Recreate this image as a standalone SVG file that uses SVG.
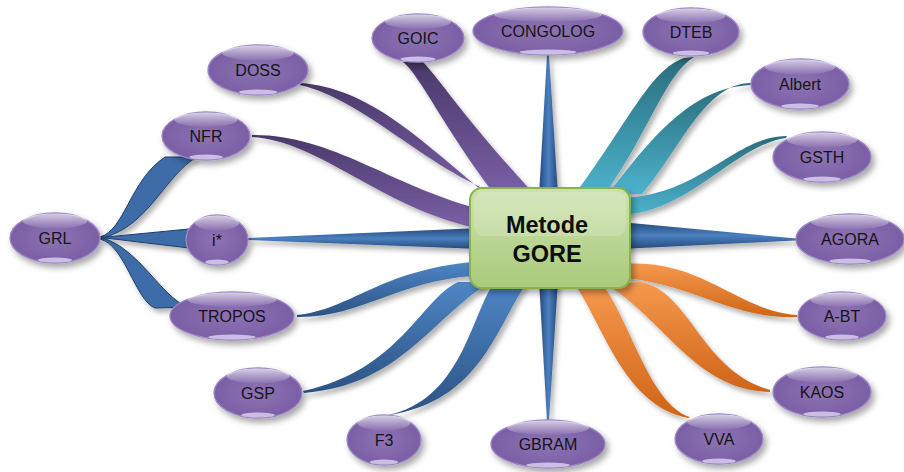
<svg xmlns="http://www.w3.org/2000/svg" width="904" height="472" viewBox="0 0 904 472">
<defs>
<filter id="sh" x="-30%" y="-30%" width="170%" height="180%"><feDropShadow dx="3" dy="4" stdDeviation="3" flood-color="#000" flood-opacity="0.35"/></filter>
<filter id="shr" x="-20%" y="-20%" width="150%" height="150%"><feDropShadow dx="3" dy="4" stdDeviation="2.5" flood-color="#000" flood-opacity="0.3"/></filter>
<radialGradient id="nodeG" cx="0.5" cy="0.5" r="0.6"><stop offset="0" stop-color="#8d73b3"/><stop offset="1" stop-color="#775ba3"/></radialGradient>
<linearGradient id="hlG" x1="0" y1="0" x2="0" y2="1"><stop offset="0" stop-color="#fff" stop-opacity="0.7"/><stop offset="1" stop-color="#fff" stop-opacity="0.05"/></linearGradient>
<linearGradient id="boxG" x1="0" y1="0" x2="0" y2="1"><stop offset="0" stop-color="#cde2af"/><stop offset="1" stop-color="#a9ca7a"/></linearGradient>
<linearGradient id="purG" x1="0" y1="0" x2="0" y2="1"><stop offset="0" stop-color="#4a396a"/><stop offset="1" stop-color="#7b60a6"/></linearGradient>
<linearGradient id="tealG" x1="0" y1="0" x2="0" y2="1"><stop offset="0" stop-color="#2a6c7c"/><stop offset="1" stop-color="#4cb3cc"/></linearGradient>
<linearGradient id="oraG" x1="0" y1="0" x2="0" y2="1"><stop offset="0" stop-color="#f6994e"/><stop offset="1" stop-color="#cf6416"/></linearGradient>
<linearGradient id="bluG" x1="0" y1="0" x2="0" y2="1"><stop offset="0" stop-color="#4e86c6"/><stop offset="1" stop-color="#2c5283"/></linearGradient>
<linearGradient id="spV" x1="0" y1="0" x2="1" y2="0"><stop offset="0" stop-color="#24497a"/><stop offset="0.5" stop-color="#4a7fbf"/><stop offset="1" stop-color="#24497a"/></linearGradient>
<linearGradient id="spH" x1="0" y1="0" x2="0" y2="1"><stop offset="0" stop-color="#24497a"/><stop offset="0.5" stop-color="#4a7fbf"/><stop offset="1" stop-color="#24497a"/></linearGradient>
</defs>
<style>
.b{fill:url(#nodeG);stroke:#9c87c6;stroke-width:1.3;filter:url(#sh)}
.t{fill:url(#hlG)}
.d{fill:#d9ceee;opacity:0.85}
.node text{font-family:"Liberation Sans",Arial,sans-serif;font-size:16px;fill:#141414;text-anchor:middle}
.ct{font-family:"Liberation Sans",Arial,sans-serif;font-size:23.5px;font-weight:bold;fill:#0d0d0d;text-anchor:middle}
.pur{fill:url(#purG)}
.teal{fill:url(#tealG)}
.ora{fill:url(#oraG)}
.blu{fill:url(#bluG)}
.spv{fill:url(#spV)}
.sph{fill:url(#spH)}
.grl{fill:#3c6ca8;stroke:#1f3f69;stroke-width:1}
</style>
<rect width="904" height="472" fill="#fff"/>
<g id="connectors" filter="url(#shr)">
<path class="pur" d="M252,135 C330,134 390,185 476,208 L476,228 C380,207 320,141 252,137 Z"/>
<path class="pur" d="M300,83 C370,88 420,140 484,192 L502,196 C425,168 365,100 300,85 Z"/>
<path class="pur" d="M403,62 C420,75 445,130 496,196 L536,196 C470,125 440,80 423,62 Z"/>
<path class="spv" d="M547,55 L549,55 L558,196 L539,196 Z"/>
<path class="teal" d="M684,58 C650,70 630,120 575,194 L605,194 C650,130 665,75 694,57 Z"/>
<path class="teal" d="M752,83 C705,82 680,150 642,194 L608,194 C650,140 690,88 750,85 Z"/>
<path class="teal" d="M787,136 C735,136 700,196 622,198 L622,215 C690,212 735,145 786,138 Z"/>
<path class="sph" d="M620,222 L796,238.5 L796,240.5 L620,249 Z"/>
<path class="ora" d="M625,264 C700,258 740,312 797,315 L797,317 C735,320 695,285 625,278 Z"/>
<path class="ora" d="M640,282 C690,290 700,370 770,390 L770,392 C695,390 665,320 606,284 Z"/>
<path class="ora" d="M575,284 C605,330 625,405 688,418 L690,417 C650,405 630,320 602,284 Z"/>
<path class="spv" d="M539,280 L558,280 L549,421 L547,421 Z"/>
<path class="blu" d="M493,284 C470,320 460,400 388,415 L390,415 C480,400 495,330 526,284 Z"/>
<path class="blu" d="M458,282 C420,300 400,370 303,391 L304,393 C400,385 430,320 490,282 Z"/>
<path class="blu" d="M297,315 C350,310 380,270 474,262 L474,276 C400,280 360,318 297,317 Z"/>
<path class="sph" d="M480,228 L248,238 L248,240 L480,249 Z"/>
<path class="grl" d="M100,237 C125,230 130,180 165,157 L197,157 C165,175 150,225 103,238 Z"/>
<path class="grl" d="M101,237.5 L189,229 L189,248 Z"/>
<path class="grl" d="M100,239 C125,245 135,300 155,308 L187,307 C160,295 140,250 103,238 Z"/>
</g>
<g id="node-gore">
<rect x="470" y="188" width="160" height="100" rx="12" fill="url(#boxG)" stroke="#8ab24c" stroke-width="2" filter="url(#sh)"/>
<rect x="474" y="192" width="152" height="44" rx="9" fill="#fff" opacity="0.18"/>
<text class="ct" x="547" y="233">Metode</text>
<text class="ct" x="547" y="262">GORE</text>
</g>
<g id="node-grl" class="node" transform="translate(55,238)"><ellipse class="b" rx="45" ry="25"/><ellipse class="t" cy="-17" rx="32.4" ry="7.5"/><ellipse class="d" cy="22" rx="17" ry="2.5"/><text y="6">GRL</text></g>
<g id="node-nfr" class="node" transform="translate(206,136)"><ellipse class="b" rx="44" ry="24"/><ellipse class="t" cy="-16.3" rx="31.7" ry="7.2"/><ellipse class="d" cy="21" rx="16.7" ry="2.5"/><text y="6">NFR</text></g>
<g id="node-istar" class="node" transform="translate(217,240)"><ellipse class="b" rx="31" ry="25"/><ellipse class="t" cy="-17" rx="22.3" ry="7.5"/><ellipse class="d" cy="22" rx="11.8" ry="2.5"/><text y="6">i*</text></g>
<g id="node-tropos" class="node" transform="translate(232,316)"><ellipse class="b" rx="62" ry="24"/><ellipse class="t" cy="-16.3" rx="44.6" ry="7.2"/><ellipse class="d" cy="21" rx="23.6" ry="2.5"/><text y="6">TROPOS</text></g>
<g id="node-doss" class="node" transform="translate(258,70)"><ellipse class="b" rx="50" ry="25"/><ellipse class="t" cy="-17" rx="36" ry="7.5"/><ellipse class="d" cy="22" rx="19" ry="2.5"/><text y="6">DOSS</text></g>
<g id="node-goic" class="node" transform="translate(418,38)"><ellipse class="b" rx="46" ry="24"/><ellipse class="t" cy="-16.3" rx="33.1" ry="7.2"/><ellipse class="d" cy="21" rx="17.5" ry="2.5"/><text y="6">GOIC</text></g>
<g id="node-congolog" class="node" transform="translate(548,31)"><ellipse class="b" rx="75" ry="24"/><ellipse class="t" cy="-16.3" rx="54" ry="7.2"/><ellipse class="d" cy="21" rx="28.5" ry="2.5"/><text y="6">CONGOLOG</text></g>
<g id="node-dteb" class="node" transform="translate(691,32)"><ellipse class="b" rx="48" ry="24"/><ellipse class="t" cy="-16.3" rx="34.6" ry="7.2"/><ellipse class="d" cy="21" rx="18.2" ry="2.5"/><text y="6">DTEB</text></g>
<g id="node-albert" class="node" transform="translate(800,84)"><ellipse class="b" rx="49" ry="25"/><ellipse class="t" cy="-17" rx="35.3" ry="7.5"/><ellipse class="d" cy="22" rx="18.6" ry="2.5"/><text y="6">Albert</text></g>
<g id="node-gsth" class="node" transform="translate(822,157)"><ellipse class="b" rx="49" ry="25"/><ellipse class="t" cy="-17" rx="35.3" ry="7.5"/><ellipse class="d" cy="22" rx="18.6" ry="2.5"/><text y="6">GSTH</text></g>
<g id="node-agora" class="node" transform="translate(850,239)"><ellipse class="b" rx="54" ry="25"/><ellipse class="t" cy="-17" rx="38.9" ry="7.5"/><ellipse class="d" cy="22" rx="20.5" ry="2.5"/><text y="6">AGORA</text></g>
<g id="node-abt" class="node" transform="translate(842,316)"><ellipse class="b" rx="44" ry="24"/><ellipse class="t" cy="-16.3" rx="31.7" ry="7.2"/><ellipse class="d" cy="21" rx="16.7" ry="2.5"/><text y="6">A-BT</text></g>
<g id="node-kaos" class="node" transform="translate(822,392)"><ellipse class="b" rx="49" ry="25"/><ellipse class="t" cy="-17" rx="35.3" ry="7.5"/><ellipse class="d" cy="22" rx="18.6" ry="2.5"/><text y="6">KAOS</text></g>
<g id="node-vva" class="node" transform="translate(719,439)"><ellipse class="b" rx="44" ry="25"/><ellipse class="t" cy="-17" rx="31.7" ry="7.5"/><ellipse class="d" cy="22" rx="16.7" ry="2.5"/><text y="6">VVA</text></g>
<g id="node-gbram" class="node" transform="translate(548,444)"><ellipse class="b" rx="57" ry="24"/><ellipse class="t" cy="-16.3" rx="41" ry="7.2"/><ellipse class="d" cy="21" rx="21.7" ry="2.5"/><text y="6">GBRAM</text></g>
<g id="node-f3" class="node" transform="translate(384,440)"><ellipse class="b" rx="37" ry="25"/><ellipse class="t" cy="-17" rx="26.6" ry="7.5"/><ellipse class="d" cy="22" rx="14.1" ry="2.5"/><text y="6">F3</text></g>
<g id="node-gsp" class="node" transform="translate(258,393)"><ellipse class="b" rx="44" ry="25"/><ellipse class="t" cy="-17" rx="31.7" ry="7.5"/><ellipse class="d" cy="22" rx="16.7" ry="2.5"/><text y="6">GSP</text></g>
</svg>
